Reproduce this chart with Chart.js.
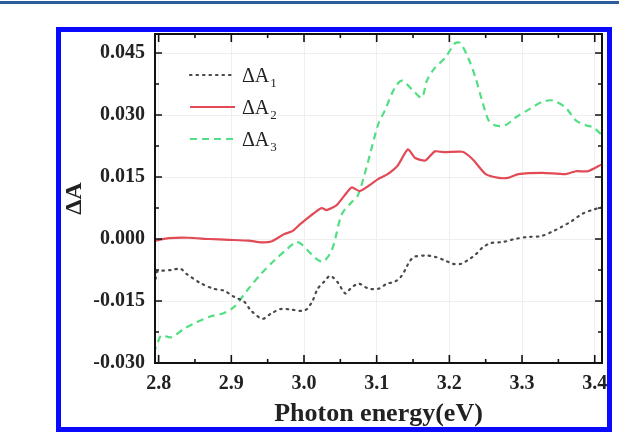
<!DOCTYPE html>
<html><head><meta charset="utf-8">
<script src="https://cdn.jsdelivr.net/npm/chart.js@4/dist/chart.umd.min.js"></script>
<style>
html,body{margin:0;padding:0;background:#fff;}
#wrap{position:relative;width:619px;height:434px;overflow:hidden;}
#topline{position:absolute;left:0;top:1px;width:619px;height:3px;background:#2c5c9c;}
#box{position:absolute;left:56px;top:27px;width:556px;height:405px;box-sizing:border-box;border:5px solid #0a0aff;}
canvas{position:absolute;left:0;top:0;}
</style>
</head><body>
<div id="wrap">
<div id="topline"></div>
<div id="box"></div>
<canvas id="c" width="619" height="434"></canvas>
</div>
<script>
// ---- data ----
const seriesLabels = ['ΔA₁', 'ΔA₂', 'ΔA₃'];

const energy1 = [2.796, 2.797, 2.817, 2.830, 2.838, 2.857, 2.875, 2.890, 2.904, 2.918, 2.927, 2.943, 2.955, 2.969, 2.983, 3.001, 3.011, 3.019, 3.029, 3.036, 3.046, 3.057, 3.064, 3.075, 3.089, 3.103, 3.114, 3.124, 3.133, 3.140, 3.145, 3.152, 3.167, 3.180, 3.194, 3.205, 3.216, 3.228, 3.237, 3.246, 3.257, 3.274, 3.290, 3.308, 3.326, 3.343, 3.354, 3.368, 3.382, 3.396, 3.410];
const deltaA1 = [-0.0096, -0.0080, -0.0075, -0.0072, -0.0084, -0.0106, -0.0120, -0.0125, -0.0140, -0.0152, -0.0173, -0.0193, -0.0180, -0.0169, -0.0171, -0.0173, -0.0152, -0.0120, -0.0101, -0.0089, -0.0104, -0.0132, -0.0120, -0.0108, -0.0120, -0.0120, -0.0108, -0.0104, -0.0092, -0.0072, -0.0055, -0.0043, -0.0040, -0.0043, -0.0052, -0.0060, -0.0060, -0.0048, -0.0036, -0.0020, -0.0010, -0.0007, 0.0000, 0.0005, 0.0007, 0.0019, 0.0029, 0.0043, 0.0060, 0.0070, 0.0077];

const energy2 = [2.796, 2.814, 2.841, 2.869, 2.897, 2.924, 2.941, 2.955, 2.973, 2.984, 2.996, 3.024, 3.031, 3.045, 3.060, 3.066, 3.077, 3.102, 3.115, 3.129, 3.143, 3.153, 3.167, 3.180, 3.194, 3.218, 3.232, 3.250, 3.268, 3.281, 3.295, 3.328, 3.360, 3.374, 3.391, 3.409];
const deltaA2 = [-0.0004, 0.0002, 0.0003, 0.0000, -0.0002, -0.0004, -0.0008, -0.0006, 0.0012, 0.0019, 0.0038, 0.0075, 0.0070, 0.0082, 0.0115, 0.0125, 0.0116, 0.0145, 0.0157, 0.0178, 0.0217, 0.0196, 0.0190, 0.0212, 0.0210, 0.0211, 0.0193, 0.0157, 0.0148, 0.0148, 0.0157, 0.0160, 0.0157, 0.0164, 0.0164, 0.0180];

const energy3 = [2.793, 2.800, 2.804, 2.817, 2.835, 2.853, 2.872, 2.890, 2.904, 2.922, 2.941, 2.959, 2.977, 2.989, 2.996, 3.024, 3.038, 3.052, 3.066, 3.074, 3.086, 3.102, 3.111, 3.125, 3.135, 3.149, 3.162, 3.169, 3.180, 3.194, 3.208, 3.215, 3.226, 3.236, 3.245, 3.254, 3.263, 3.277, 3.291, 3.309, 3.328, 3.342, 3.360, 3.374, 3.388, 3.398, 3.409];
const deltaA3 = [-0.0277, -0.0245, -0.0233, -0.0238, -0.0217, -0.0201, -0.0187, -0.0179, -0.0164, -0.0124, -0.0084, -0.0052, -0.0024, -0.0007, -0.0012, -0.0055, -0.0028, 0.0060, 0.0090, 0.0105, 0.0173, 0.0277, 0.0310, 0.0366, 0.0383, 0.0361, 0.0342, 0.0383, 0.0414, 0.0438, 0.0474, 0.0474, 0.0438, 0.0390, 0.0335, 0.0287, 0.0275, 0.0275, 0.0294, 0.0313, 0.0332, 0.0335, 0.0318, 0.0287, 0.0275, 0.0270, 0.0253];

const xMin = 2.795, xMax = 3.41, xStep = 0.1;
const yMin = -0.030, yMax = 0.0496, yStep = 0.015;
const xTitle = 'Photon energy(eV)';
const yTitle = 'ΔA';

const pts = (xs, ys) => xs.map((v, i) => ({x: v, y: ys[i]}));

const serif = "'Liberation Serif', 'Times New Roman', serif";

const boxPlugin = {
  id: 'boxPlugin',
  afterDatasetsDraw(chart) {
    const {ctx, chartArea: a, scales: {x, y}} = chart;
    ctx.save();
    ctx.strokeStyle = '#111';
    ctx.lineWidth = 1.6;
    ctx.beginPath();
    const tick = (p, len, horiz) => {
      if (horiz) {
        ctx.moveTo(p, a.bottom); ctx.lineTo(p, a.bottom - len);
        ctx.moveTo(p, a.top); ctx.lineTo(p, a.top + len);
      } else {
        ctx.moveTo(a.left, p); ctx.lineTo(a.left + len, p);
        ctx.moveTo(a.right, p); ctx.lineTo(a.right - len, p);
      }
    };
    x.ticks.forEach(t => {
      tick(x.getPixelForValue(t.value), 8, true);
      const m = t.value + xStep / 2;
      if (m < x.max) tick(x.getPixelForValue(m), 4, true);
    });
    y.ticks.forEach(t => {
      tick(y.getPixelForValue(t.value), 7, false);
      const m = t.value + yStep / 2;
      if (m < y.max) tick(y.getPixelForValue(m), 4, false);
    });
    ctx.stroke();
    ctx.lineWidth = 2;
    ctx.strokeRect(a.left, a.top, a.right - a.left, a.bottom - a.top);

    // legend inside the plot
    const lx0 = a.left + 35, lx1 = a.left + 80, tx = a.left + 87;
    chart.data.datasets.forEach((ds, i) => {
      const yy = a.top + 41 + i * 32;
      ctx.save();
      ctx.strokeStyle = ds.borderColor;
      ctx.lineWidth = ds.borderWidth;
      ctx.lineCap = ds.borderCapStyle || 'butt';
      ctx.setLineDash(ds.borderDash || []);
      ctx.beginPath(); ctx.moveTo(lx0, yy); ctx.lineTo(lx1, yy); ctx.stroke();
      ctx.restore();
      const base = ds.label.replace(/[₀-₉]/g, '');
      const sub = ds.label.replace(/[^₀-₉]/g, '').split('').map(c => String(c.charCodeAt(0) - 0x2080)).join('');
      ctx.fillStyle = '#222';
      ctx.textBaseline = 'alphabetic';
      ctx.font = `20px ${serif}`;
      ctx.fillText(base, tx, yy + 7);
      const w = ctx.measureText(base).width;
      ctx.font = `13px ${serif}`;
      ctx.fillText(sub, tx + w + 1, yy + 12);
    });
    ctx.restore();
  }
};

new Chart(document.getElementById('c'), {
  type: 'line',
  data: {
    datasets: [
      {label: seriesLabels[0], data: pts(energy1, deltaA1), borderColor: '#4a4a4a', borderWidth: 2.2, borderDash: [1.5, 5], borderCapStyle: 'round', pointRadius: 0, tension: 0.3, fill: false},
      {label: seriesLabels[1], data: pts(energy2, deltaA2), borderColor: '#e24a55', borderWidth: 2.2, pointRadius: 0, tension: 0.2, fill: false},
      {label: seriesLabels[2], data: pts(energy3, deltaA3), borderColor: '#52de82', borderWidth: 2.2, borderDash: [7, 5], pointRadius: 0, tension: 0.3, fill: false}
    ]
  },
  options: {
    responsive: false,
    animation: false,
    events: [],
    layout: {padding: {left: 0, top: 34, right: 17, bottom: 0}},
    plugins: {legend: {display: false}, tooltip: {enabled: false}},
    scales: {
      x: {
        type: 'linear', min: xMin, max: xMax,
        afterFit: s => { s.height = 71; },
        grid: {color: '#efefef', lineWidth: 1, drawTicks: false},
        border: {display: false},
        ticks: {stepSize: xStep, includeBounds: false, padding: 9, color: '#222',
          font: {family: serif, size: 20, weight: 'bold'},
          callback: v => v.toFixed(1)},
        title: {display: true, text: xTitle, color: '#222', padding: {top: 0, bottom: 7},
          font: {family: serif, size: 26, weight: 'bold', lineHeight: 1}}
      },
      y: {
        type: 'linear', min: yMin, max: yMax,
        afterFit: s => { s.width = 155; },
        grid: {color: '#efefef', lineWidth: 1, drawTicks: false},
        border: {display: false},
        ticks: {stepSize: yStep, includeBounds: false, padding: 10, color: '#222',
          font: {family: serif, size: 20, weight: 'bold'},
          callback: v => (Math.abs(v) < 1e-9 ? 0 : v).toFixed(3)},
        title: {display: true, text: yTitle, color: '#222', padding: {top: 63, bottom: 0},
          font: {family: serif, size: 24, weight: 'bold', lineHeight: 1}}
      }
    }
  },
  plugins: [boxPlugin]
});
</script>
</body></html>
